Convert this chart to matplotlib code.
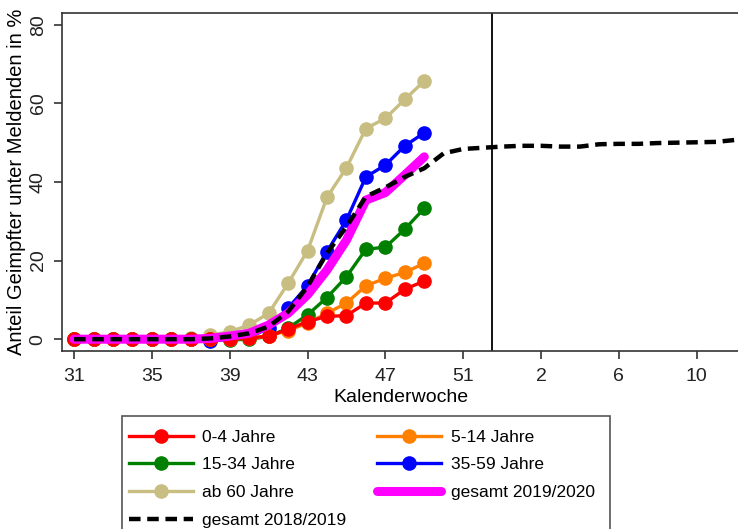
import matplotlib
matplotlib.use("Agg")
import matplotlib.pyplot as plt
from matplotlib.patches import Rectangle

plt.rcParams['font.family'] = ['Liberation Sans', 'DejaVu Sans']

# Week labels along the x axis (index positions 0..35)
week_labels = [str(w) for w in range(31, 54)] + [str(w) for w in range(1, 14)]
tick_idx = [0, 4, 8, 12, 16, 20, 24, 28, 32]

# 2019/2020 age groups, weeks 31..49
age_0_4   = [0, 0, 0, 0, 0, 0, 0, 0, 0, 0.3, 0.8, 2.5, 4.5, 5.8, 6.0, 9.2, 9.2, 12.7, 14.8]
age_5_14  = [0, 0, 0, 0, 0, 0, 0, 0, 0, 0.3, 0.8, 2.2, 4.1, 6.6, 9.2, 13.6, 15.5, 17.0, 19.3]
age_15_34 = [0, 0, 0, 0, 0, 0, 0, 0, -0.2, 0, 0.7, 2.8, 6.2, 10.6, 15.9, 22.9, 23.4, 28.0, 33.3]
age_35_59 = [0, 0, 0, 0, 0, 0, 0, -0.5, 0, 0.5, 2.8, 7.9, 13.6, 22.3, 30.3, 41.3, 44.3, 49.2, 52.5]
age_60    = [0, 0, 0, 0, 0, 0, 0.3, 1.0, 1.9, 3.6, 6.6, 14.2, 22.5, 36.1, 43.6, 53.6, 56.2, 61.0, 65.7]
total_1920 = [0, 0, 0, 0, 0, 0, 0, 0.2, 0.8, 1.5, 3.6, 6.6, 11.3, 17.6, 25.2, 35.4, 37.3, 41.8, 46.4]
# 2018/2019 total, weeks 31..53, 1..12
total_1819 = [0, 0, 0, 0, 0, 0, 0, 0.2, 0.7, 1.5, 3.2, 7.0, 13.4, 21.9, 28.6, 36.3, 38.6, 41.3, 43.5,
              47.3, 48.4, 48.7, 49.0, 49.2, 49.2, 49.0, 49.0, 49.6, 49.7, 49.7, 49.9, 50.0, 50.1,
              50.2, 50.7]

x_age = list(range(len(age_0_4)))
x_1819 = list(range(len(total_1819)))

fig = plt.figure(figsize=(7.38, 5.29), dpi=100)
ax = fig.add_axes([0.084, 0.3365, 0.918, 0.639])

lw = 2.4
ms = 9.5
series = [
    (age_60, '#C8BE82', 'ab 60 Jahre'),
    (age_35_59, '#0000FF', '35-59 Jahre'),
    (age_15_34, '#008000', '15-34 Jahre'),
    (age_5_14, '#FF8000', '5-14 Jahre'),
    (age_0_4, '#FF0000', '0-4 Jahre'),
]
handles = {}
for vals, col, lab in series:
    h, = ax.plot(x_age, vals, color=col, lw=lw, marker='o', ms=ms, mec=col, mfc=col, label=lab)
    handles[lab] = h
h, = ax.plot(x_age, total_1920, color='#FF00FF', lw=6.5, solid_capstyle='round', label='gesamt 2019/2020')
handles['gesamt 2019/2020'] = h
h, = ax.plot(x_1819, total_1819, color='black', lw=3.2, dashes=(2.6, 1.5), label='gesamt 2018/2019')
handles['gesamt 2018/2019'] = h

ax.axvline(21.5, color='black', lw=1.3)

ax.set_xlim(-0.62, 34.2)
ax.set_ylim(-3, 83)
ax.set_xticks(tick_idx)
ax.set_xticklabels([week_labels[i] for i in tick_idx], fontsize=14)
ax.set_yticks([0, 20, 40, 60, 80])
ax.set_yticklabels(['0', '20', '40', '60', '80'], fontsize=14, rotation=90, va='center')
ax.tick_params(direction='out', length=6, width=1.1, colors='#222222', pad=6)
ax.tick_params(axis='y', pad=5)
ax.set_xlabel('Kalenderwoche', fontsize=14, labelpad=3)
ax.set_ylabel('Anteil Geimpfter unter Meldenden in %', fontsize=14.5, labelpad=3)
for s in ['left', 'bottom', 'top']:
    ax.spines[s].set_linewidth(1.2)
    ax.spines[s].set_color('#333333')
ax.spines['right'].set_visible(False)

order = ['0-4 Jahre', '15-34 Jahre', 'ab 60 Jahre', 'gesamt 2018/2019',
         '5-14 Jahre', '35-59 Jahre', 'gesamt 2019/2020']
leg = fig.legend([handles[k] for k in order], order, ncol=2, loc='upper left',
                 bbox_to_anchor=(0.1555, 0.214), fontsize=12.5, frameon=False,
                 handlelength=3.7, handletextpad=0.55, columnspacing=1.75,
                 labelspacing=0.72, borderpad=0.8, borderaxespad=0)
# legend frame (extends below the figure edge, as in the reference)
fig.patches.append(Rectangle((122 / 738, -0.05), (610 - 122) / 738, (529 - 416) / 529 + 0.05,
                             transform=fig.transFigure, fill=False, ec='#555555', lw=1.2))

fig.savefig('out.png', dpi=100)
